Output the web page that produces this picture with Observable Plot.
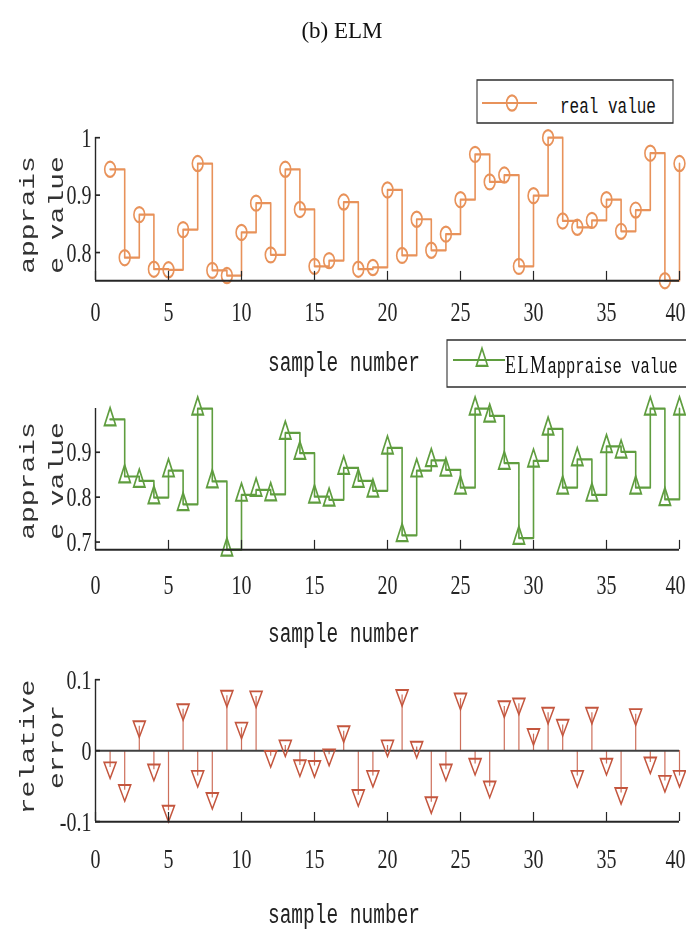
<!DOCTYPE html>
<html><head><meta charset="utf-8">
<script src="https://cdn.jsdelivr.net/npm/d3@7"></script>
<script src="https://cdn.jsdelivr.net/npm/@observablehq/plot@0.6"></script>
<style>
html,body{margin:0;padding:0;background:#fff;}
#page{position:relative;width:686px;height:934px;overflow:hidden;background:#fff;}
#chart{position:absolute;left:0;top:0;width:686px;overflow:hidden;transform:scaleY(1.4);transform-origin:0 0;}
#chart svg{position:absolute;left:0;top:0;max-width:none !important;}
</style></head><body>
<div id="page"><div id="chart"></div></div>
<script>
// ---------------- data ----------------
const title = "(b) ELM";
const sampleNo = [1,2,3,4,5,6,7,8,9,10,11,12,13,14,15,16,17,18,19,20,21,22,23,24,25,26,27,28,29,30,31,32,33,34,35,36,37,38,39,40];
const realValue = [0.945,0.791,0.866,0.771,0.770,0.840,0.955,0.769,0.760,0.835,0.886,0.796,0.945,0.875,0.776,0.786,0.888,0.771,0.774,0.909,0.795,0.858,0.804,0.832,0.892,0.971,0.923,0.935,0.776,0.899,1.000,0.855,0.844,0.856,0.892,0.837,0.874,0.973,0.751,0.955];
const elmValue = [0.973,0.846,0.836,0.799,0.859,0.784,0.997,0.835,0.683,0.805,0.816,0.806,0.943,0.898,0.801,0.794,0.865,0.836,0.814,0.910,0.715,0.859,0.882,0.861,0.821,0.997,0.981,0.876,0.709,0.881,0.952,0.821,0.884,0.805,0.913,0.901,0.821,0.997,0.795,0.997];
const relError = [-0.024,-0.056,0.034,-0.027,-0.085,0.058,-0.036,-0.067,0.077,0.032,0.076,-0.008,0.007,-0.021,-0.022,-0.006,0.027,-0.063,-0.036,0.007,0.078,0.005,-0.073,-0.027,0.073,-0.019,-0.051,0.062,0.066,0.023,0.053,0.036,-0.036,0.053,-0.019,-0.060,0.051,-0.017,-0.043,-0.036];
const xTicks = [0,5,10,15,20,25,30,35,40];
const xTickLabels = ["0","5","10","15","20","25","30","35","40"];
const yTicks1 = [0.8,0.9,1], yTickLabels1 = ["0.8","0.9","1"];
const yTicks2 = [0.7,0.8,0.9], yTickLabels2 = ["0.7","0.8","0.9"];
const yTicks3 = [-0.1,0,0.1], yTickLabels3 = ["-0.1","0","0.1"];
const yDomain1 = [0.751, 1.0], yDomain2 = [0.683, 0.997], yDomain3 = [-0.1, 0.1];
const xAxisTitle = "sample number";
const yTitles1 = ["apprais","e value"], yTitles2 = ["apprais","e value"], yTitles3 = ["relative","error"];
const legendLabels = ["real value", "ELMappraise value"];

// ---------------- style ----------------
const S = 1.4, H = 934 / S, W = 686, ML = 95, MR = 7;
const orange = "#e8925a", green = "#5f9d3f", red = "#c4563e", axisCol = "#262626";
const serif = '"Liberation Serif","Times New Roman",serif';
const mono = '"Liberation Mono","DejaVu Sans Mono",monospace';
document.getElementById("chart").style.height = H + "px";

const triUp = {draw(ctx){ const w=5.6,h=12.5; ctx.moveTo(0,-2*h/3); ctx.lineTo(w,h/3); ctx.lineTo(-w,h/3); ctx.closePath(); }};
const triDown = {draw(ctx){ const w=6,h=11.5; ctx.moveTo(0,2*h/3); ctx.lineTo(w,-h/3); ctx.lineTo(-w,-h/3); ctx.closePath(); }};

function panel(top, bottom, yDomain, yTicks, yLabels, pad, marks) {
  const mt = top / S, mb = H - bottom / S, ph = H - mt - mb;
  const xl = new Map(xTicks.map((t,i)=>[t, xTickLabels[i]]));
  const yl = new Map(yTicks.map((t,i)=>[t, yLabels[i]]));
  const last = xTicks[xTicks.length - 1];
  return Plot.plot({
    width: W, height: H, marginLeft: ML, marginRight: MR, marginTop: mt, marginBottom: mb,
    style: {background: "transparent", overflow: "visible", color: axisCol, maxWidth: "none"},
    x: {domain: [0, 40]},
    y: {domain: yDomain},
    marks: [
      ...marks,
      Plot.ruleX([0], {stroke: axisCol, strokeWidth: 1.4}),
      Plot.ruleY([yDomain[0]], {stroke: axisCol, strokeWidth: 1.4}),
      Plot.tickX(xTicks, {x: d => d, insetTop: ph - 6.5, stroke: axisCol, strokeWidth: 1.2}),
      Plot.tickY(yTicks, {y: d => d, insetRight: (W - ML - MR) - 5, stroke: axisCol, strokeWidth: 1.2}),
      Plot.axisX(xTicks.slice(0, -1), {tickSize: 0, tickPadding: pad, fontSize: 20, fontFamily: serif, tickFormat: d => xl.get(d), label: null}),
      Plot.text([last], {x: d => d, frameAnchor: "bottom", lineAnchor: "top", dy: pad, dx: 6, textAnchor: "end",
        text: d => xl.get(d), fontSize: 20, fontFamily: serif, fill: axisCol}),
      Plot.axisY(yTicks, {tickSize: 0, tickPadding: 4, fontSize: 20, fontFamily: serif, tickFormat: d => yl.get(d), label: null})
    ]
  });
}

const d1 = sampleNo.map((x,i)=>({x, y: realValue[i]}));
const d2 = sampleNo.map((x,i)=>({x, y: elmValue[i]}));
const d3v = sampleNo.map((x,i)=>({x, y: relError[i]}));

const chart = document.getElementById("chart");
chart.append(panel(137, 280, yDomain1, yTicks1, yTickLabels1, 14.4, [
  Plot.line(d1, {x: "x", y: "y", curve: "step-after", stroke: orange, strokeWidth: 1.6}),
  Plot.dot(d1, {x: "x", y: "y", r: 5.4, stroke: orange, strokeWidth: 1.6, fill: "none"})
]));
chart.append(panel(408, 549, yDomain2, yTicks2, yTickLabels2, 17.3, [
  Plot.line(d2, {x: "x", y: "y", curve: "step-after", stroke: green, strokeWidth: 1.6}),
  Plot.dot(d2, {x: "x", y: "y", symbol: triUp, stroke: green, strokeWidth: 1.6, fill: "none"})
]));
chart.append(panel(679, 821, yDomain3, yTicks3, yTickLabels3, 18.7, [
  Plot.ruleX(d3v, {x: "x", y1: 0, y2: "y", stroke: red, strokeWidth: 1.2, strokeOpacity: 0.85}),
  Plot.ruleY([0], {stroke: "#404040", strokeWidth: 1.5}),
  Plot.dot(d3v, {x: "x", y: "y", symbol: triDown, stroke: red, strokeWidth: 1.4, fill: "none"})
]));

// overlay: axis titles and legends (inside stretched frame)
const ov = d3.create("svg").attr("width", W).attr("height", H)
  .attr("style", "position:absolute;left:0;top:0;overflow:visible;max-width:none");
function xlabel(baseScreen){
  ov.append("text").attr("x", 344).attr("y", baseScreen / S).attr("text-anchor", "middle")
    .attr("font-family", mono).attr("font-size", 19.5).attr("fill", "#222").text(xAxisTitle);
}
function ylabel(lines, cyScreen){
  lines.forEach((t,i)=>{
    const x = [34, 63][i], y = cyScreen / S;
    ov.append("text").attr("transform", `translate(${x},${y}) rotate(-90)`).attr("text-anchor", "middle")
      .attr("font-family", mono).attr("font-size", 20).attr("fill", "#333").text(t);
  });
}
xlabel(370.6); xlabel(641.6); xlabel(922.6);
ylabel(yTitles1, 215); ylabel(yTitles2, 481); ylabel(yTitles3, 747);

// legend 1
ov.append("rect").attr("x", 477).attr("y", 80 / S).attr("width", 196).attr("height", 43 / S)
  .attr("fill", "white").attr("stroke", "#333").attr("stroke-width", 1.1);
ov.append("line").attr("x1", 482).attr("x2", 537).attr("y1", 103 / S).attr("y2", 103 / S)
  .attr("stroke", orange).attr("stroke-width", 1.6);
ov.append("circle").attr("cx", 512).attr("cy", 103 / S).attr("r", 5.4).attr("fill", "none")
  .attr("stroke", orange).attr("stroke-width", 1.6);
ov.append("text").attr("x", 560).attr("y", 113.3 / S).attr("font-family", mono).attr("font-size", 16)
  .attr("fill", "#111").text(legendLabels[0]);
// legend 2
ov.append("rect").attr("x", 447).attr("y", 340 / S).attr("width", 250).attr("height", 47 / S)
  .attr("fill", "white").attr("stroke", "#333").attr("stroke-width", 1.1);
ov.append("line").attr("x1", 453).attr("x2", 505).attr("y1", 360 / S).attr("y2", 360 / S)
  .attr("stroke", green).attr("stroke-width", 1.6);
ov.append("path").attr("transform", `translate(482,${360 / S})`)
  .attr("d", (()=>{const p = d3.path(); triUp.draw(p); return p.toString();})())
  .attr("fill", "none").attr("stroke", green).attr("stroke-width", 1.6);
const t2 = ov.append("text").attr("x", 505).attr("y", 373.3 / S).attr("fill", "#111");
t2.append("tspan").attr("font-family", serif).attr("font-size", 18).attr("letter-spacing", 1.5).text(legendLabels[1].slice(0,3));
t2.append("tspan").attr("font-family", mono).attr("font-size", 15.5).text(legendLabels[1].slice(3));
chart.append(ov.node());

// title (not stretched)
d3.select("#page").append("svg").attr("width", W).attr("height", 60)
  .attr("style", "position:absolute;left:0;top:0")
  .append("text").attr("x", 342).attr("y", 38).attr("text-anchor", "middle")
  .attr("font-family", serif).attr("font-size", 23).attr("fill", "#111").text(title);
</script>
</body></html>
